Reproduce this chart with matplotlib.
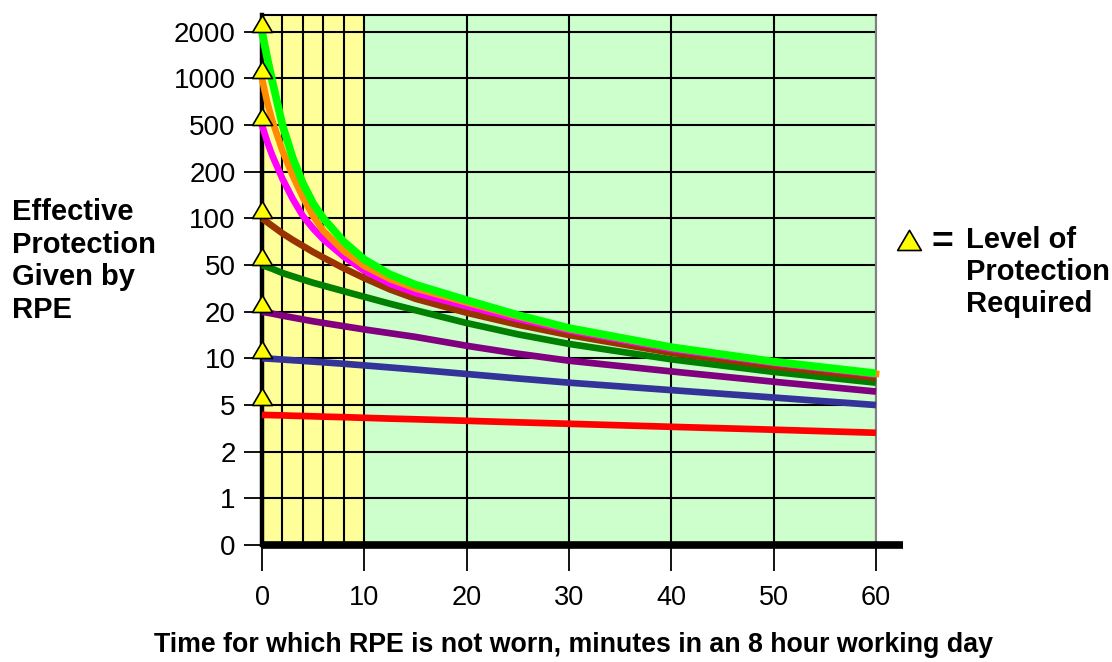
import numpy as np
import matplotlib
matplotlib.use("Agg")
import matplotlib.pyplot as plt
from matplotlib.path import Path
from matplotlib.lines import Line2D

plt.rcParams["font.family"] = ["Liberation Sans", "DejaVu Sans"]

# Minutes without RPE during an 8 hour day
minutes = [0, 0.5, 1, 2, 3, 4, 5, 6, 8, 10, 12.5, 15, 20, 25, 30, 40, 50, 60]

# Effective protection for each nominal protection factor
protection_2000 = [2000, 1366, 966, 500, 263, 168, 124.8, 100, 70.7, 54.3, 41.6, 34.0,
                   25.1, 19.05, 15.69, 11.81, 9.53, 8.01]
protection_1000 = [1000, 707, 536, 302, 189, 136.6, 103.5, 83.0, 61.6, 49.1, 38.0, 31.6,
                   24.0, 18.66, 15.48, 11.73, 9.46, 7.96]
protection_500 = [500, 363, 276, 180, 133.8, 103.5, 85.9, 73.2, 56.6, 44.8, 34.7, 28.9,
                  22.3, 18.0, 15.16, 11.49, 9.33, 7.85]
protection_100 = [100, 94.6, 89.5, 80.1, 72.7, 66.4, 60.7, 55.9, 46.9, 38.7, 31.0, 25.8,
                  19.7, 16.5, 14.14, 10.87, 8.89, 7.47]
protection_50 = [50, 48.2, 46.5, 42.8, 40.1, 37.6, 35.3, 33.4, 29.9, 26.8, 23.4, 20.6,
                 16.9, 14.3, 12.4, 9.86, 8.18, 6.97]
protection_20 = [20, 19.72, 19.45, 18.86, 18.34, 17.84, 17.35, 16.93, 16.13, 15.37, 14.54, 13.76,
                 12.06, 10.72, 9.66, 8.24, 7.07, 6.11]
protection_10 = [10, 9.966, 9.93, 9.83, 9.73, 9.63, 9.53, 9.43, 9.23, 9.01, 8.74, 8.47,
                 7.93, 7.42, 6.97, 6.24, 5.59, 5.0]
protection_4 = [4.125, 4.11, 4.10, 4.08, 4.05, 4.03, 4.006, 3.98, 3.94, 3.89, 3.83, 3.78,
                3.67, 3.56, 3.46, 3.26, 3.08, 2.90]

series = [
    (protection_4, "#FF0000"),
    (protection_10, "#333399"),
    (protection_20, "#800080"),
    (protection_50, "#008000"),
    (protection_100, "#993300"),
    (protection_500, "#FF00FF"),
    (protection_1000, "#FF8C00"),
    (protection_2000, "#00FF00"),
]

y_levels = [0, 1, 2, 5, 10, 20, 50, 100, 200, 500, 1000, 2000]
y_labels = ["0", "1", "2", "5", "10", "20", "50", "100", "200", "500", "1000", "2000"]
required_levels = [2000, 1000, 500, 100, 50, 20, 10, 5]
x_ticks = [0, 10, 20, 30, 40, 50, 60]
x_fine = [2, 4, 6, 8]

# Evenly spaced protection bands: log-interpolated between listed levels
_band_vals = np.log10([1, 2, 5, 10, 20, 50, 100, 200, 500, 1000, 2000, 4000])
_band_pos = np.arange(1, 13, dtype=float)


def forward(v):
    v = np.asarray(v, dtype=float)
    lv = np.log10(np.clip(v, 1e-9, None))
    return np.where(v < 1, v, np.interp(lv, _band_vals, _band_pos))


def inverse(p):
    p = np.asarray(p, dtype=float)
    return np.where(p < 1, p, 10 ** np.interp(p, _band_pos, _band_vals))


W, H = 1112, 662
fig = plt.figure(figsize=(W / 100, H / 100), dpi=100)
ax = fig.add_axes([262 / W, 1 - 545 / H, (876 - 262) / W, (545 - 15) / H])
ax.set_yscale("function", functions=(forward, inverse))
ax.set_xlim(0, 60)
ax.set_ylim(0, float(inverse(11.36)))

ax.axvspan(0, 10, color="#FFFF99", zorder=0, lw=0)
ax.axvspan(10, 60, color="#CCFFCC", zorder=0, lw=0)

ax.set_yticks(y_levels)
ax.set_yticklabels(y_labels)
ax.set_xticks(x_ticks)
ax.set_xticks(x_fine, minor=True)
ax.grid(True, which="both", color="black", lw=1.5)
ax.tick_params(axis="y", which="major", length=13, width=1.3, pad=6, labelsize=20)
ax.tick_params(axis="x", which="major", length=19, width=1.3, pad=10, labelsize=19.5)
ax.tick_params(axis="x", which="minor", length=0)

ax.spines["top"].set_linewidth(1.5)
ax.spines["right"].set_color("#808080")
ax.spines["right"].set_linewidth(1.5)
ax.spines["left"].set_linewidth(3.2)
ax.spines["bottom"].set_visible(False)

for values, color in series:
    lw = 5.6 if color == "#00FF00" else 4.8
    cap = "projecting" if color == "#FF8C00" else "butt"
    ax.plot(minutes, values, color=color, lw=lw, solid_capstyle=cap,
            solid_joinstyle="round", zorder=3, clip_on=False)

# Thick time axis running past the plot edge
ax.add_line(Line2D([0, (903 - 262) / (876 - 262)], [0, 0], transform=ax.transAxes,
                   color="black", lw=5.5, clip_on=False, zorder=4, solid_capstyle="butt"))

tri = Path([(-10, 0), (10, 0), (0, 17), (-10, 0)],
           [Path.MOVETO, Path.LINETO, Path.LINETO, Path.CLOSEPOLY])
ax.plot([0] * len(required_levels), required_levels, ls="none", marker=tri, ms=24.5,
        mfc="#FFFF00", mec="black", mew=1.2, clip_on=False, zorder=6)

fig.add_artist(Line2D([909 / W], [1 - 250 / H], transform=fig.transFigure, ls="none",
                      marker=tri, ms=29, mfc="#FFFF00", mec="black", mew=1.2))
fig.text(942 / W, 1 - 243 / H, "=", fontsize=27, fontweight="bold", ha="center", va="center")
fig.text(966 / W, 1 - 272 / H, "Level of\nProtection\nRequired", fontsize=21,
         fontweight="bold", ha="left", va="center", linespacing=1.2)

fig.text(12 / W, 1 - 261 / H, "Effective\nProtection\nGiven by\nRPE", fontsize=21,
         fontweight="bold", ha="left", va="center", linespacing=1.2)
fig.text(573 / W, 1 - 645 / H,
         "Time for which RPE is not worn, minutes in an 8 hour working day",
         fontsize=19.3, fontweight="bold", ha="center", va="center")

fig.savefig("out.png", dpi=100)
